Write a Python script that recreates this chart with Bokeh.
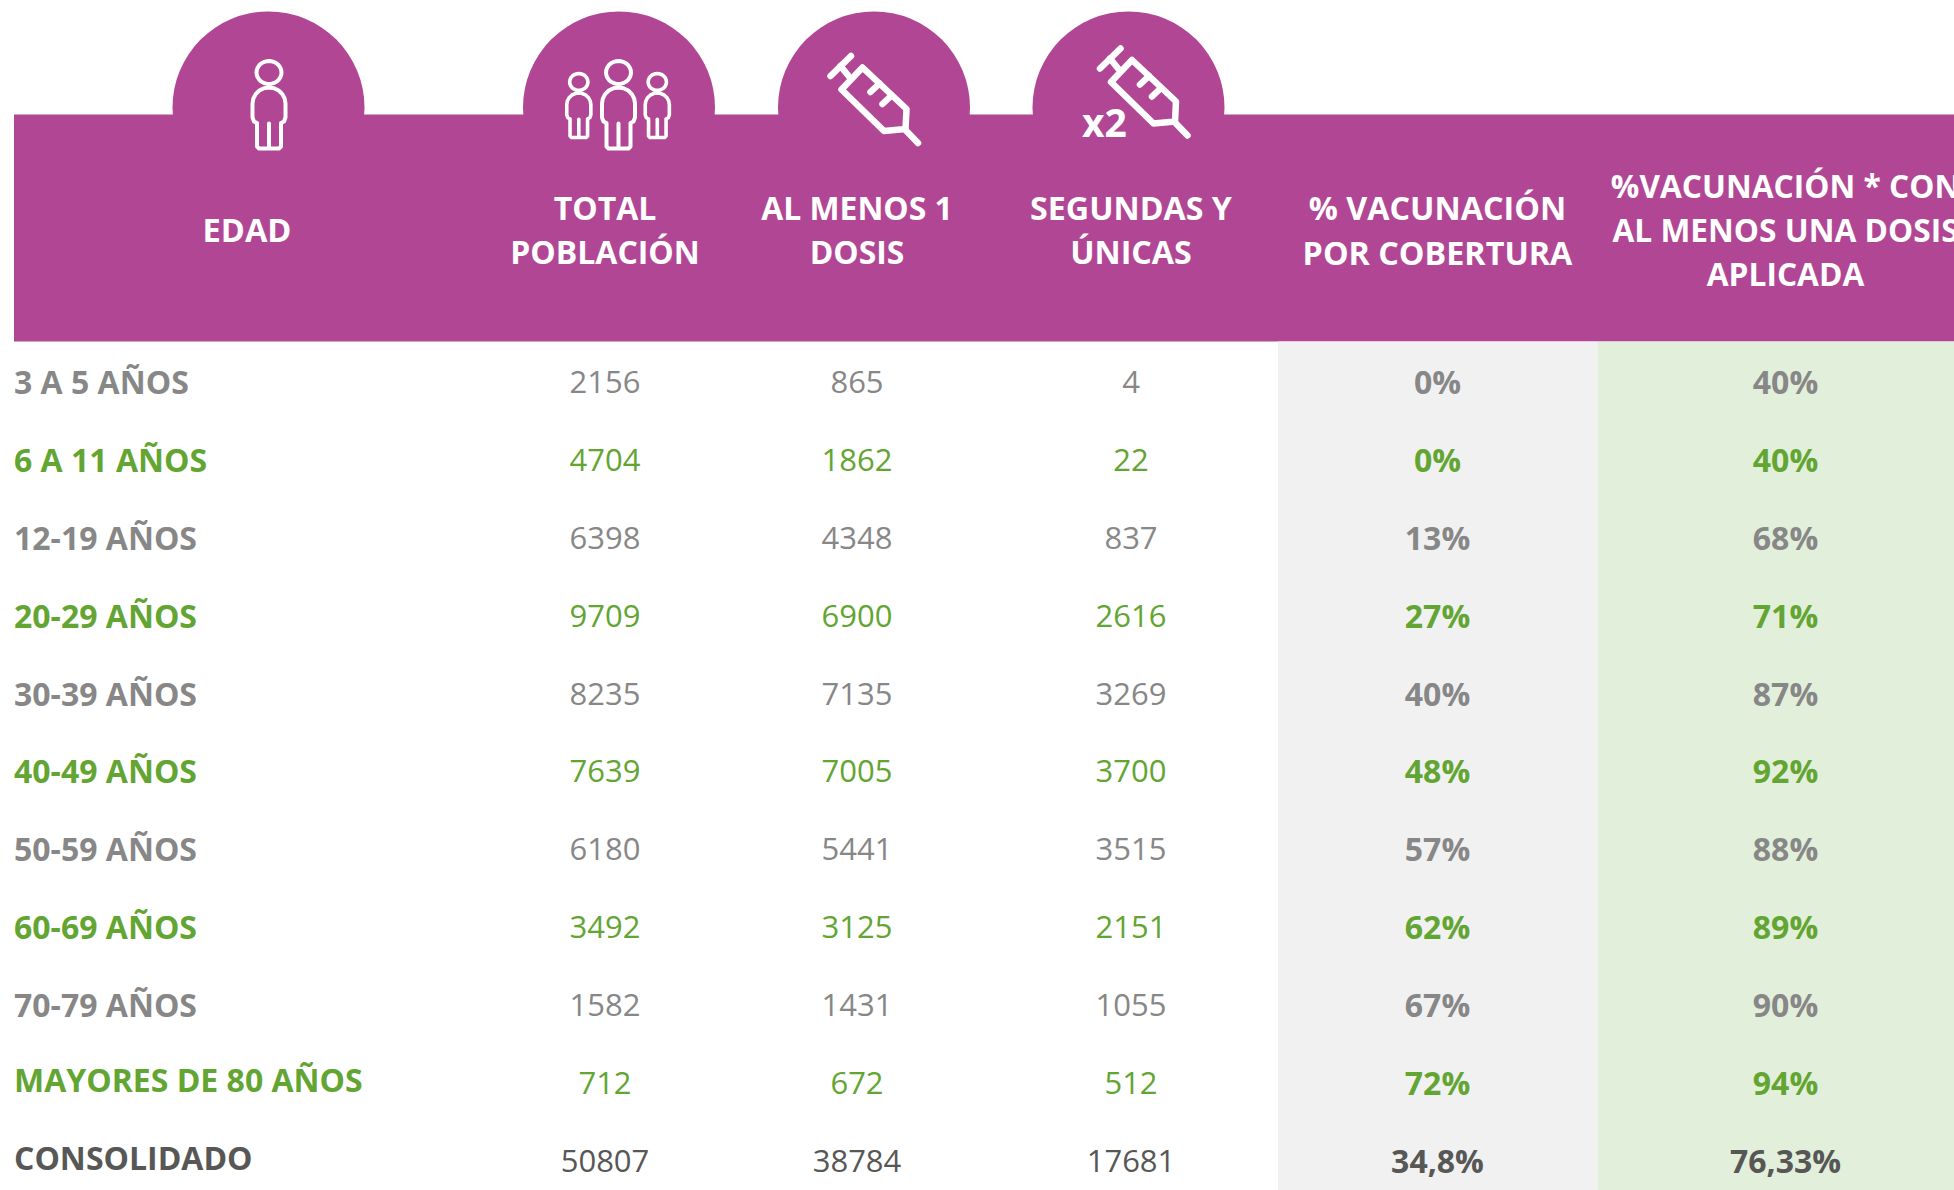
from bokeh.plotting import figure
from bokeh.models import Range1d
from bokeh.core.properties import value
from bokeh.embed import file_html
from bokeh.resources import INLINE
import math

edades = ["3 A 5 AÑOS", "6 A 11 AÑOS", "12-19 AÑOS", "20-29 AÑOS", "30-39 AÑOS", "40-49 AÑOS",
          "50-59 AÑOS", "60-69 AÑOS", "70-79 AÑOS", "MAYORES DE 80 AÑOS", "CONSOLIDADO"]
total_poblacion = [2156, 4704, 6398, 9709, 8235, 7639, 6180, 3492, 1582, 712, 50807]
al_menos_1 = [865, 1862, 4348, 6900, 7135, 7005, 5441, 3125, 1431, 672, 38784]
segundas = [4, 22, 837, 2616, 3269, 3700, 3515, 2151, 1055, 512, 17681]
pct_cobertura = ["0%", "0%", "13%", "27%", "40%", "48%", "57%", "62%", "67%", "72%", "34,8%"]
pct_dosis = ["40%", "40%", "68%", "71%", "87%", "92%", "88%", "89%", "90%", "94%", "76,33%"]

MAGENTA, GRAY, GREEN, DARK = "#B14794", "#878787", "#63A532", "#575756"
W, H = 1954, 1190
FONT = value("Open Sans")

p = figure(width=W, height=H, output_backend="svg", toolbar_location=None,
           x_range=Range1d(0, W), y_range=Range1d(H, 0), min_border=0,
           background_fill_color="white", border_fill_color="white", outline_line_color=None)
p.axis.visible = False
p.grid.visible = False

# header band and domes
p.quad(left=[13.5], right=[1954], top=[114], bottom=[341], fill_color=MAGENTA, line_color=None)
for cx in (268, 618.5, 873.5, 1128):
    p.ellipse(x=[cx], y=[107], width=192, height=192, fill_color=MAGENTA, line_color=None)

# shaded columns
p.quad(left=[1277.5], right=[1597], top=[341], bottom=[1190], fill_color="#F1F1F1", line_color=None)
p.quad(left=[1597], right=[1954], top=[341], bottom=[1190], fill_color="#E2EFDA", line_color=None)


def icon_line(xs, ys, w=4.0):
    p.line(xs, ys, line_color="white", line_width=w, line_cap="round", line_join="round")


def person(cx, top, s, w):
    # head
    t = [i * math.pi / 14 for i in range(29)]
    icon_line([cx + 12.5 * s * math.cos(a) for a in t], [top + 13 * s + 11.5 * s * math.sin(a) for a in t], w)
    # body outline
    arc = [math.pi + i * math.pi / 10 for i in range(11)]
    bx = [16.5 * math.cos(a) for a in arc]
    by = [44 + 16 * math.sin(a) for a in arc]
    xs = [-16.5, -16.5, -15, -12, -12, -10, 10, 12, 12, 15, 16.5] + bx[::-1]
    ys = [44, 58, 62, 63.5, 87, 89, 89, 87, 63.5, 62, 58] + by[::-1]
    icon_line([cx + x * s for x in xs], [top + y * s for y in ys], w)
    icon_line([cx, cx], [top + 64 * s, top + 88 * s], w)


person(268.5, 59, 1.0, 4)
person(618, 59, 1.0, 4)
person(578.3, 72, 0.73, 3.6)
person(656.8, 72, 0.73, 3.6)


def syringe(ox, oy):
    segs = [
        ([0, 20.5], [0, -20]),
        ([10, 18.5], [-10, 0.5]),
        ([11, 32, 76, 75, 53.5, 11], [13.5, -8.5, 33, 53, 55, 13.5]),
        ([74, 87.5], [53, 67]),
        ([40, 49], [16, 7.5]),
        ([52, 61], [28, 19.5]),
    ]
    for xs, ys in segs:
        icon_line([ox + x for x in xs], [oy + y for y in ys], 6.5)


syringe(830, 75.5)
syringe(1099.5, 68)
p.text(x=[1104], y=[121], text=["x2"], text_color="white", text_font=FONT, text_font_size="39px",
       text_font_style="bold", text_align="center", text_baseline="middle")

# header labels
centers = [246.5, 604.5, 856.5, 1130.5, 1437, 1785]
headers = [["EDAD"], ["TOTAL", "POBLACIÓN"], ["AL MENOS 1", "DOSIS"], ["SEGUNDAS Y", "ÚNICAS"],
           ["% VACUNACIÓN", "POR COBERTURA"], ["%VACUNACIÓN * CON", "AL MENOS UNA DOSIS", "APLICADA"]]
header_sizes = ["32.6px", "32px", "31.9px", "32.2px", "32.3px", "31.7px"]
for cx, lines, size in zip(centers, headers, header_sizes):
    y0 = 229 - (len(lines) - 1) * 44.3 / 2
    p.text(x=[cx] * len(lines), y=[y0 + i * 44.3 for i in range(len(lines))], text=lines,
           text_color="white", text_font=FONT, text_font_size=size, text_font_style="bold",
           text_align="center", text_baseline="middle")

# body rows
row_y = [381.7 + 77.85 * i for i in range(len(edades))]
colors = [DARK if i == len(edades) - 1 else (GREEN if i % 2 else GRAY) for i in range(len(edades))]
label_y = [y - (3 if i >= 9 else 0) - 0.5 for i, y in enumerate(row_y)]
pct_y = [y - 0.5 for y in row_y]

p.text(x=[13.5] * len(edades), y=label_y, text=edades, text_color=colors, text_font=FONT,
       text_font_size="32px", text_font_style="bold", text_align="left", text_baseline="middle")
for cx, vals in zip(centers[1:4], (total_poblacion, al_menos_1, segundas)):
    p.text(x=[cx] * len(vals), y=row_y, text=[str(v) for v in vals], text_color=colors, text_font=FONT,
           text_font_size="31px", text_align="center", text_baseline="middle")
for cx, vals in zip(centers[4:], (pct_cobertura, pct_dosis)):
    p.text(x=[cx] * len(vals), y=pct_y, text=vals, text_color=colors, text_font=FONT,
           text_font_size="32px", text_font_style="bold", text_align="center", text_baseline="middle")

open("out.html", "w").write(file_html(p, INLINE))
